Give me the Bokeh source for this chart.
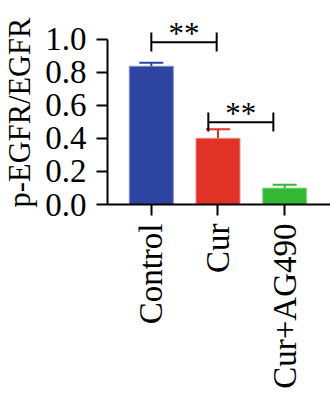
from bokeh.plotting import figure
from bokeh.models import Range1d, FixedTicker, ColumnDataSource, LinearAxis
from bokeh.embed import file_html
from bokeh.resources import INLINE
from bokeh.core.properties import value
import math

categories = ["Control", "Cur", "Cur+AG490"]
means = [0.835, 0.40, 0.099]
errors = [0.021, 0.055, 0.020]
colors = ["#2D44A0", "#E03226", "#33B833"]
edge_colors = ["#7F8FD0", "#F08A80", "#8AD88A"]
y_ticks = [0.0, 0.2, 0.4, 0.6, 0.8, 1.0]
y_label = "p-EGFR/EGFR"
sig_label = "**"

FONT = "Liberation Serif"

xs = list(range(len(categories)))
cap_half = 0.18
src = ColumnDataSource(dict(
    x=xs, top=means, err_top=[m + e for m, e in zip(means, errors)],
    x0=[x - cap_half for x in xs], x1=[x + cap_half for x in xs],
    color=colors, edge=edge_colors,
))

p = figure(width=330, height=393, output_backend="svg", toolbar_location=None,
           x_range=Range1d(-0.657, 2.687), y_range=Range1d(0, 1.1118),
           x_axis_location=None, y_axis_location=None,
           min_border_left=106, min_border_right=0, min_border_top=20, min_border_bottom=189)
p.outline_line_color = None
p.xgrid.visible = False
p.ygrid.visible = False
p.background_fill_color = "white"
p.border_fill_color = "white"

p.vbar(x="x", top="top", bottom=0, width=0.66, fill_color="color", line_color="edge",
       line_width=1, source=src)
p.segment(x0="x", y0="top", x1="x", y1="err_top", line_color="color", line_width=2, source=src)
p.segment(x0="x0", y0="err_top", x1="x1", y1="err_top", line_color="color", line_width=2, source=src)

# significance brackets
brackets = [(0.0, 0.98, 0.98, 0.925, 1.04, 0.49, 1.035),
            (0.855, 1.83, 0.497, 0.441, 0.556, 1.34, 0.55)]
for xa, xb, yb, ylo, yhi, xt, yt in brackets:
    p.segment(x0=[xa, xa, xb], y0=[yb, ylo, ylo], x1=[xb, xa, xb], y1=[yb, yhi, yhi],
              line_color="black", line_width=2)
    p.text(x=[xt], y=[yt], text=[sig_label], text_font=value(FONT), text_font_size="31px",
           text_align="center", text_baseline="alphabetic", text_color="black")

yaxis = LinearAxis(ticker=FixedTicker(ticks=y_ticks), bounds=(0, 1.0))
yaxis.major_label_overrides = {t: f"{t:.1f}" for t in y_ticks}
yaxis.axis_label = y_label
yaxis.axis_label_text_font = FONT
yaxis.axis_label_text_font_size = "30.5px"
yaxis.axis_label_text_font_style = "normal"
yaxis.axis_label_text_color = "black"
yaxis.axis_label_standoff = 5
yaxis.major_label_text_font = FONT
yaxis.major_label_text_font_size = "33px"
yaxis.major_label_text_color = "black"
yaxis.major_label_standoff = 10
yaxis.major_tick_out = 11
yaxis.major_tick_in = 0
yaxis.minor_tick_out = 0
yaxis.minor_tick_in = 0
yaxis.axis_line_width = 2
yaxis.axis_line_color = "black"
yaxis.major_tick_line_width = 2
yaxis.major_tick_line_color = "black"
p.add_layout(yaxis, "left")

xaxis = LinearAxis(ticker=FixedTicker(ticks=xs))
xaxis.major_label_overrides = {i: c for i, c in enumerate(categories)}
xaxis.major_label_orientation = math.pi / 2
xaxis.major_label_text_font = FONT
xaxis.major_label_text_font_size = "33px"
xaxis.major_label_text_color = "black"
xaxis.major_label_standoff = 8
xaxis.major_tick_out = 11
xaxis.major_tick_in = 0
xaxis.minor_tick_out = 0
xaxis.minor_tick_in = 0
xaxis.axis_line_width = 2
xaxis.axis_line_color = "black"
xaxis.major_tick_line_width = 2
xaxis.major_tick_line_color = "black"
p.add_layout(xaxis, "below")

open("out.html", "w").write(file_html(p, INLINE))
